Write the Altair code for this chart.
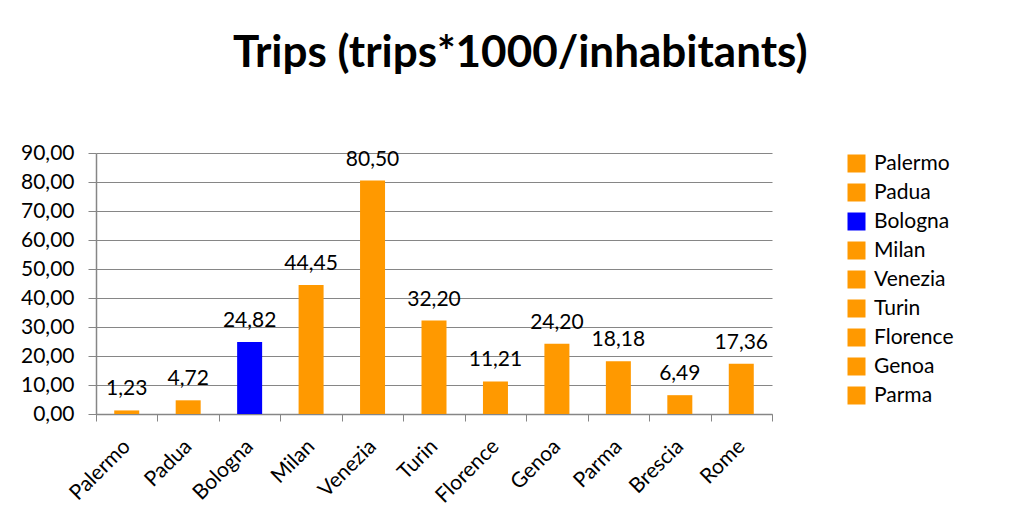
import altair as alt
import pandas as pd

cities = ["Palermo", "Padua", "Bologna", "Milan", "Venezia", "Turin",
          "Florence", "Genoa", "Parma", "Brescia", "Rome"]
values = [1.23, 4.72, 24.82, 44.45, 80.50, 32.20, 11.21, 24.20, 18.18, 6.49, 17.36]
colors = ["#FF9900", "#FF9900", "#0000FF", "#FF9900", "#FF9900", "#FF9900",
          "#FF9900", "#FF9900", "#FF9900", "#FF9900", "#FF9900"]
legend_cities = ["Palermo", "Padua", "Bologna", "Milan", "Venezia", "Turin",
                 "Florence", "Genoa", "Parma"]
y_ticks = [0, 10, 20, 30, 40, 50, 60, 70, 80, 90]

df = pd.DataFrame({"city": cities, "value": values})
df["label"] = [f"{v:.2f}".replace(".", ",") for v in values]

FONT = "Lato"
GRAY = "#868686"

x = alt.X("city:N", sort=cities, title=None,
          scale=alt.Scale(paddingInner=0, paddingOuter=0),
          axis=alt.Axis(labelAngle=-45, labelAlign="right", labelBaseline="middle",
                        labelFontSize=21, labelColor="black", labelFont=FONT,
                        tickBand="extent", tickColor=GRAY, tickSize=7,
                        domainColor=GRAY, domainWidth=1.5, labelPadding=22,
                        grid=False))
y = alt.Y("value:Q", title=None,
          scale=alt.Scale(domain=[0, 90], nice=False),
          axis=alt.Axis(values=y_ticks, labelExpr="replace(format(datum.value, '.2f'), '.', ',')",
                        labelFontSize=21, labelColor="black", labelFont=FONT,
                        tickColor=GRAY, tickSize=8, domainColor=GRAY,
                        domainWidth=1.5, gridColor=GRAY, gridWidth=1.2,
                        labelPadding=14, labelOverlap=False))

base = alt.Chart(df)

bars = base.mark_bar(size=25).encode(
    x=x, y=y,
    color=alt.Color("city:N", sort=cities,
                    scale=alt.Scale(domain=cities, range=colors),
                    legend=alt.Legend(title=None, values=legend_cities,
                                      symbolType="square", symbolSize=324,
                                      symbolStrokeWidth=0, labelFontSize=21,
                                      labelFont=FONT, labelColor="black",
                                      rowPadding=7, offset=74, padding=0,
                                      labelOffset=7)),
)

text = base.mark_text(dy=-15, baseline="alphabetic", fontSize=21, font=FONT,
                      color="black").encode(x=x, y=y, text="label:N")

chart = alt.layer(bars, text).properties(
    width=676, height=261,
    title=alt.TitleParams("Trips (trips*1000/inhabitants)", fontSize=44,
                          font=FONT, fontWeight="bold", color="black",
                          anchor="middle", frame="bounds", offset=66, dx=33),
).configure(padding={"left": 12, "top": 24, "right": 5, "bottom": 5},
            view=alt.ViewConfig(stroke=None))

chart.save("out.html", embed_options={"renderer": "svg", "actions": False})
